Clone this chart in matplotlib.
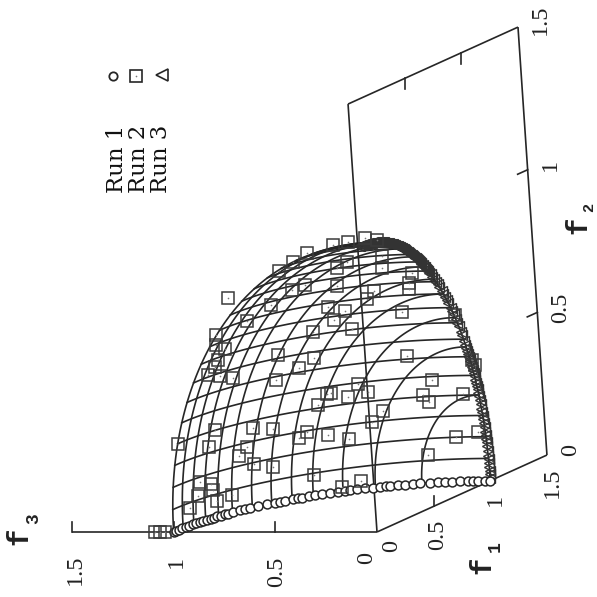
import numpy as np
import matplotlib
matplotlib.use("Agg")
import matplotlib.pyplot as plt

# Projection of (f1, f2, f3) onto the page (rotated gnuplot view)
ORIGIN = np.array([377.0, 532.0])
E1 = np.array([113.3, -51.3])
E2 = np.array([-19.3, -285.3])
E3 = np.array([-203.3, 0.0])

def proj(f1, f2, f3):
    f1, f2, f3 = np.asarray(f1, float), np.asarray(f2, float), np.asarray(f3, float)
    return (ORIGIN[0] + f1*E1[0] + f2*E2[0] + f3*E3[0],
            ORIGIN[1] + f1*E1[1] + f2*E2[1] + f3*E3[1])

INK = "#262626"

# Mesh angles (degrees)
f2_line_angles = [4.5, 9, 13.5, 18, 22.5, 27, 31.5, 36, 40.5, 45, 49.5, 54, 58.5, 63, 67.5, 72, 76.5, 81, 85.5]
f1_arc_angles = [90, 85.5, 81, 76.5, 72, 67.5, 61.5, 56, 50.5, 45, 37.5, 29.5, 18]

# Run 1: angle along the f2 = 0 edge, from f3 towards f1
run1_angle = [0, 1.2, 2.5, 4, 5.6, 7, 8.5, 10, 11.2, 12.6, 13.9, 15.2, 16.4, 17.6, 18.7, 20, 21, 22.6, 24.8, 26.3, 27.8, 30, 32.6, 34.9,
              36.2, 37.6, 39.7, 41, 42, 44, 45.4, 47.2, 49.2, 51.2, 53, 54.3, 56, 58, 60, 61.7, 63, 64,
              66, 67.8, 69.8, 71.6, 74, 76, 77.9, 79.7, 81.8, 83.8, 85.3, 86.6, 88.6, 90]

# Run 3: angle along the f3 = 0 edge, from f1 towards f2
run3_angle = [0.5, 1.3, 2, 2.8, 3.5, 4.3, 5, 6, 7, 7.8, 8.5, 9.3, 10, 11, 12, 12.8, 13.5, 14.3, 15, 16, 17, 17.8, 18.5, 19.3,
              20, 20.8, 21.5, 22.3, 23, 23.8, 24.5, 25.3, 26, 26.5, 27, 27.8, 28.5, 29.3,
              30, 31, 32.5, 33.5, 35, 36, 37, 38.5, 39.5, 40.5, 42, 43, 44, 45, 46, 47.5, 48.5,
              49.5, 50.5, 51.5, 52.5, 53.2, 54, 54.6, 55, 55.7, 56, 56.6, 57, 57.6, 58, 58.5, 59, 59.5,
              60, 60.5, 61, 61.5, 62, 62.5, 63, 63.5, 64, 64.5, 65, 65.5, 66, 66.5, 67, 67.5, 68, 68.5,
              69, 69.5, 70, 70.5, 71, 71.5, 72, 72.5, 73, 73.5, 74, 74.5, 75, 75.5, 76, 76.5, 77, 77.5,
              78, 78.5, 79, 79.5, 80, 80.5, 81, 81.5, 82, 82.5, 83, 83.5, 84, 84.5, 85, 85.5, 86, 86.5,
              87, 87.5, 88, 88.5, 89, 89.5]

# Run 2: positions read in the page plane
run2_x = [333, 307, 293, 279, 348, 365, 377, 228, 247, 216, 216, 225, 218, 215, 208, 220, 233,
          271, 292, 305, 337, 337, 347, 328, 345, 334, 313, 352, 374, 367, 382, 382, 412, 409, 409, 402,
          278, 314, 299, 276, 407, 358, 331, 327, 348, 368, 318, 383, 372,
          178, 215, 209, 253, 273, 307, 299, 328, 349, 247, 239, 254, 273, 314, 361, 342,
          200, 211, 213, 198, 232, 217, 190, 155, 160, 165,
          432, 423, 429, 463, 456, 478, 428, 472, 475, 455]
run2_y = [245, 253, 262, 271, 242, 238, 240, 298, 321, 335, 345, 349, 360, 367, 375, 376, 378,
          305, 290, 285, 286, 268, 262, 307, 311, 320, 332, 329, 291, 299, 256, 268, 273, 283, 289, 312,
          355, 358, 368, 380, 356, 384, 393, 394, 397, 392, 405, 411, 422,
          444, 430, 447, 428, 429, 432, 438, 435, 439, 447, 456, 464, 467, 475, 481, 487,
          482, 484, 490, 496, 495, 501, 508, 532, 532, 532,
          380, 395, 402, 394, 437, 432, 455, 360, 365, 315]

# Axis tick labels
f3_ticks = ["1.5", "1", "0.5", "0"]
f1_ticks = ["0", "0.5", "1", "1.5"]
f2_ticks = ["0", "0.5", "1", "1.5"]
legend_labels = ["Run 1", "Run 2", "Run 3"]

fig = plt.figure(figsize=(5.97, 5.97), dpi=100)
ax = fig.add_axes([0, 0, 1, 1])
ax.set_xlim(0, 597)
ax.set_ylim(597, 0)
ax.axis("off")

LW = 1.2

def line(a, b, lw=LW):
    x, y = proj([a[0], b[0]], [a[1], b[1]], [a[2], b[2]])
    ax.plot(x, y, color=INK, lw=lw, solid_capstyle="butt", zorder=2)

# Box
line((0, 0, 1.5), (0, 0, 0))
line((0, 0, 0), (1.5, 0, 0))
line((1.5, 0, 0), (1.5, 1.5, 0))
line((1.5, 1.5, 0), (0, 1.5, 0))
line((0, 1.5, 0), (0, 0, 0))

# Ticks
for v in (0.5, 1.0, 1.5):
    x, y = proj(0, 0, v)
    ax.plot([x, x], [y, y - 10], color=INK, lw=LW, zorder=2)
for v in (0.5, 1.0):
    x, y = proj(v, 0, 0)
    ax.plot([x, x], [y, y - 10], color=INK, lw=LW, zorder=2)
    x, y = proj(1.5, v, 0)
    ax.plot([x, x - 10], [y, y + 4.5], color=INK, lw=LW, zorder=2)
    x, y = proj(v, 1.5, 0)
    ax.plot([x, x], [y, y + 11], color=INK, lw=LW, zorder=2)

# Sphere mesh
a = np.radians(np.linspace(0, 90, 91))
for t in np.radians(f2_line_angles):
    x, y = proj(np.cos(t)*np.cos(a), np.full_like(a, np.sin(t)), np.cos(t)*np.sin(a))
    ax.plot(x, y, color=INK, lw=LW, zorder=3)
for t in np.radians(f1_arc_angles):
    x, y = proj(np.full_like(a, np.cos(t)), np.sin(t)*np.cos(a), np.sin(t)*np.sin(a))
    ax.plot(x, y, color=INK, lw=LW, zorder=3)
x, y = proj(np.cos(a), np.sin(a), 0*a)
ax.plot(x, y, color=INK, lw=LW, zorder=3)
x, y = proj(np.sin(a), 0*a, np.cos(a))
ax.plot(x, y, color=INK, lw=LW, zorder=3)

# Markers
r1 = np.radians(run1_angle)
x1, y1 = proj(np.sin(r1), 0*r1, np.cos(r1))
ax.plot(x1, y1, ls="none", marker="o", ms=6.4, mfc="white", mec=INK, mew=1.1, zorder=5)

r3 = np.radians(run3_angle)
x3, y3 = proj(np.cos(r3), np.sin(r3), 0*r3)
ax.plot(x3, y3, ls="none", marker="<", ms=6.6, mfc="none", mec="#333333", mew=1.0, zorder=4)

ax.plot(run2_x, run2_y, ls="none", marker="s", ms=8.4, mfc="none", mec="#3a3a3a", mew=1.1, zorder=6)
ax.plot(run2_x, run2_y, ls="none", marker="o", ms=1.2, mfc="#777777", mec="none", zorder=6)

# Legend
ax.plot([113], [76], marker="o", ms=6.0, mfc="none", mec=INK, mew=1.3, ls="none")
ax.plot([136], [76], marker="s", ms=8.4, mfc="none", mec=INK, mew=1.2, ls="none")
ax.plot([136], [76], marker="o", ms=1.2, mfc="#777777", mec="none", ls="none")
ax.plot([162], [75], marker="<", ms=8.0, mfc="none", mec=INK, mew=1.2, ls="none")
for lab, bx in zip(legend_labels, (117, 139, 161)):
    ax.text(bx, 193, lab, rotation=90, ha="center", va="bottom", family="DejaVu Serif",
            fontsize=16.5, color="#111111")

# Tick labels
serif = dict(rotation=90, ha="center", va="center", family="Liberation Serif", fontsize=17.5, color="#222222")
for lab, pos in zip(f3_ticks, [(75, 570), (176, 562), (277, 572), (367, 558)]):
    ax.text(pos[0], pos[1], lab, **serif)
for lab, pos in zip(f1_ticks, [(392, 546), (438, 535), (495, 500), (552, 483)]):
    ax.text(pos[0], pos[1], lab, **serif)
for lab, pos in zip(f2_ticks, [(571, 450), (561, 308), (550, 165), (540, 20)]):
    ax.text(pos[0], pos[1], lab, **serif)

# Axis names
mono = dict(rotation=90, ha="center", va="center", family="Liberation Mono", color="#222222", fontweight="bold")
ax.text(19, 536, "f", fontsize=21, **mono)
ax.text(34, 519, "3", fontsize=13, **mono)
ax.text(482, 565, "f", fontsize=21, **mono)
ax.text(495, 547, "1", fontsize=13, **mono)
ax.text(578, 225, "f", fontsize=21, **mono)
ax.text(589, 207, "2", fontsize=11, **mono)

fig.savefig("out.png", dpi=100)
